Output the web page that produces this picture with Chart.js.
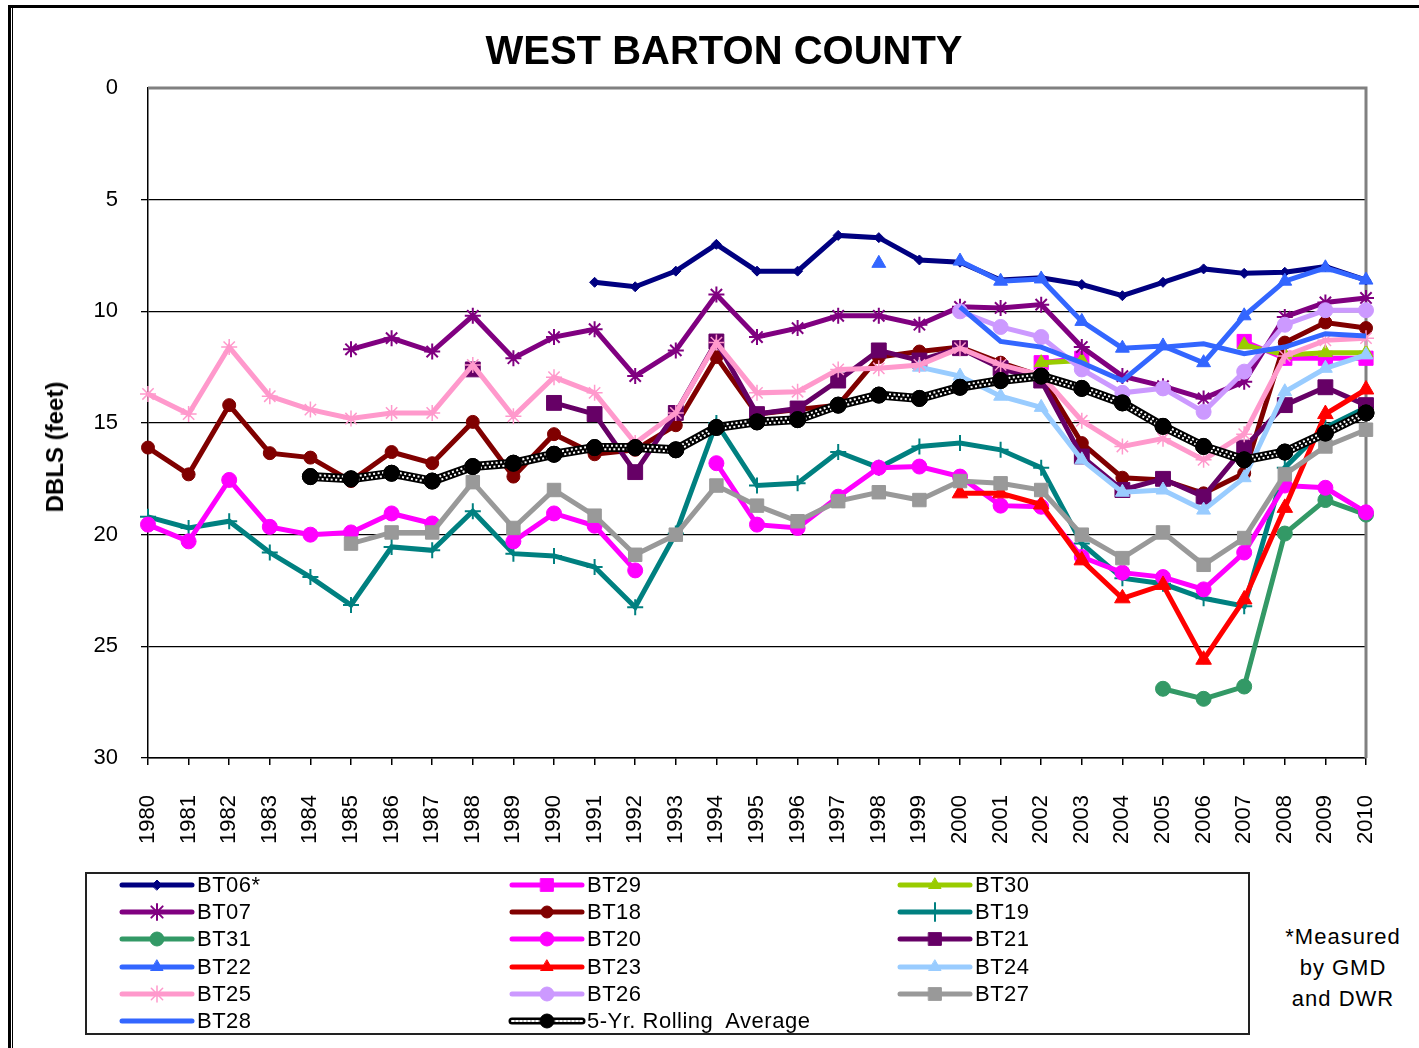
<!DOCTYPE html>
<html><head><meta charset="utf-8">
<script src="https://cdn.jsdelivr.net/npm/chart.js@4.4.1/dist/chart.umd.min.js"></script>
<style>
html,body{margin:0;padding:0;background:#fff;width:1419px;height:1048px;overflow:hidden;font-family:"Liberation Sans",Arial,sans-serif;color:#000;}
#frame1{position:absolute;left:8px;top:5px;width:1500px;height:1100px;border-top:3px solid #000;border-left:3px solid #000;}
#frame2{position:absolute;left:12px;top:8px;width:1500px;height:1100px;border-left:1.5px solid #000;}
#chart{position:absolute;left:0;top:0;}
#title{position:absolute;left:0;width:1448px;top:26px;text-align:center;font-weight:bold;font-size:40px;line-height:48px;}
#ytitle{position:absolute;left:55px;top:447px;transform:translate(-50%,-50%) rotate(-90deg);white-space:nowrap;font-weight:bold;font-size:24px;}
#legend{position:absolute;left:85px;top:872px;width:1161px;height:159px;border:2px solid #222;}
.lt{position:absolute;font-size:22px;line-height:26px;white-space:pre;letter-spacing:0.5px;}
.sw{position:absolute;}
#note{position:absolute;left:1243px;width:200px;top:921px;text-align:center;font-size:22px;line-height:31px;letter-spacing:1px;}
</style>
</head><body>
<div id="frame1"></div><div id="frame2"></div>
<canvas id="chart" width="1419" height="860"></canvas>
<div id="title">WEST BARTON COUNTY</div>
<div id="ytitle">DBLS (feet)</div>
<div id="legend"></div>
<div id="note">*Measured<br>by GMD<br>and DWR</div>
<script>
const years = ['1980','1981','1982','1983','1984','1985','1986','1987','1988','1989','1990','1991','1992','1993','1994','1995','1996','1997','1998','1999','2000','2001','2002','2003','2004','2005','2006','2007','2008','2009','2010'];
const yTicks = [0,5,10,15,20,25,30];
const N = null;

const BT06 = [N,N,N,N,N,N,N,N,N,N,N, 8.7,8.9,8.2,7.0,8.2,8.2,6.6,6.7,7.7,7.8,8.6,8.5,8.8,9.3,8.7,8.1,8.3,8.25,8.0,8.6];
const BT29 = [N,N,N,N,N,N,N,N,N,N,N,N,N,N,N,N,N,N,N,N,N,N, 12.3,12.1,N,N,N,11.35,12.1,12.1,12.1];
const BT30 = [N,N,N,N,N,N,N,N,N,N,N,N,N,N,N,N,N,N,N,N,N,N, 12.3,12.2,N,N,N,11.5,11.95,11.85,11.85];
const BT07 = [N,N,N,N,N, 11.7,11.2,11.8,10.2,12.1,11.15,10.8,12.9,11.75,9.25,11.15,10.75,10.2,10.2,10.6,9.8,9.85,9.7,11.6,12.9,13.35,13.9,13.15,10.25,9.6,9.4];
const BT18 = [16.1,17.3,14.2,16.35,16.55,17.6,16.3,16.8,14.95,17.4,15.5,16.4,16.2,15.1,12.05,14.6,14.4,14.2,12.05,11.8,11.6,12.3,12.9,15.9,17.45,17.55,18.15,17.25,11.4,10.5,10.75];
const BT19 = [19.2,19.7,19.4,20.8,21.9,23.15,20.55,20.7,18.95,20.85,20.95,21.45,23.25,19.95,15.0,17.8,17.7,16.3,17.0,16.05,15.9,16.2,17.0,20.4,21.95,22.2,22.85,23.2,17.0,15.2,14.3];
const BT31 = [N,N,N,N,N,N,N,N,N,N,N,N,N,N,N,N,N,N,N,N,N,N,N,N,N, 26.9,27.35,26.8,19.95,18.45,19.1];
const BT20 = [19.55,20.3,17.55,19.65,20.0,19.9,19.05,19.5,N,20.3,19.05,19.6,21.6,N,16.8,19.55,19.7,18.3,17.0,16.95,17.4,18.7,18.75,21.0,21.7,21.9,22.45,20.8,17.8,17.9,19.0];
const BT21 = [N,N,N,N,N,N,N,N, 12.6,N,14.1,14.6,17.2,14.55,11.35,14.6,14.35,13.1,11.75,12.2,11.65,12.55,13.1,16.5,18.0,17.5,18.3,16.1,14.2,13.4,14.2];
const BT22 = [N,N,N,N,N,N,N,N,N,N,N,N,N,N,N,N,N,N, 7.85,N,7.75,8.65,8.55,10.45,11.65,11.55,12.3,10.2,8.65,8.05,8.6];
const BT23 = [N,N,N,N,N,N,N,N,N,N,N,N,N,N,N,N,N,N,N,N, 18.15,18.15,18.65,21.15,22.85,22.25,25.6,22.9,18.8,14.6,13.5];
const BT24 = [N,N,N,N,N,N,N,N,N,N,N,N,N,N,N,N,N,N,N, 12.5,12.9,13.8,14.3,16.65,18.1,18.0,18.9,17.45,13.6,12.55,11.95];
const BT25 = [13.7,14.6,11.6,13.8,14.4,14.8,14.55,14.55,12.4,14.7,12.95,13.65,15.9,14.55,11.4,13.65,13.6,12.6,12.55,12.4,11.65,12.4,12.85,14.9,16.05,15.7,16.65,15.5,12.0,11.3,11.2];
const BT26 = [N,N,N,N,N,N,N,N,N,N,N,N,N,N,N,N,N,N,N,N, 10.0,10.7,11.15,12.6,13.65,13.45,14.5,12.7,10.6,9.95,9.95];
const BT27 = [N,N,N,N,N, 20.4,19.9,19.9,17.65,19.7,18.0,19.15,20.9,20.0,17.8,18.7,19.4,18.5,18.1,18.45,17.6,17.7,18.0,20.0,21.05,19.9,21.35,20.15,17.3,16.05,15.3];
const BT28 = [N,N,N,N,N,N,N,N,N,N,N,N,N,N,N,N,N,N,N,N, 9.8,11.35,11.6,12.3,13.1,11.6,11.45,11.9,11.6,11.0,11.1];
const AVG5 = [N,N,N,N, 17.4,17.5,17.25,17.6,16.95,16.8,16.4,16.1,16.1,16.2,15.2,14.95,14.85,14.2,13.75,13.9,13.4,13.1,12.9,13.45,14.1,15.15,16.05,16.65,16.3,15.45,14.55];

const seriesNames = ['BT06*','BT29','BT30','BT07','BT18','BT19','BT31','BT20','BT21','BT22','BT23','BT24','BT25','BT26','BT27','BT28','5-Yr. Rolling  Average'];
const seriesData = [BT06,BT29,BT30,BT07,BT18,BT19,BT31,BT20,BT21,BT22,BT23,BT24,BT25,BT26,BT27,BT28,AVG5];

// styles: [color, pointStyle, radius, borderWidth, lineWidth, legendRadius]
const styles = [
  ['#000080','rectRot',5,1,5,5],
  ['#FF00FF','rect',10,1,5,9],
  ['#99CC00','triangle',8,1,5,7],
  ['#800080','star',8,2,5,8],
  ['#800000','circle',6.5,1,5,6],
  ['#008080','cross',8,2,5,9],
  ['#339966','circle',7.5,1,5,7],
  ['#FF00FF','circle',7.5,1,5,7],
  ['#660066','rect',10.5,1,5,9],
  ['#3366FF','triangle',8,1,5,7],
  ['#FF0000','triangle',9,1,5,7],
  ['#99CCFF','triangle',8,1,5,7],
  ['#FF99CC','star',8,1.5,5,8],
  ['#CC99FF','circle',7.5,1,5,7],
  ['#999999','rect',9.5,1,5,9],
  ['#3366FF',false,0,0,5,0],
  ['#000000','circle',8,1,9,7]
];
const AVG_INDEX = 16;
const n = seriesNames.length;

const datasets = seriesNames.map((name,i)=>{
  const s = styles[i];
  return {
    label: name,
    data: seriesData[i],
    borderColor: s[0],
    backgroundColor: s[0],
    borderWidth: s[4],
    pointStyle: s[1],
    pointRadius: s[2],
    pointBorderWidth: s[3],
    pointBackgroundColor: s[0],
    pointBorderColor: s[0],
    pointHoverRadius: s[2],
    tension: 0,
    spanGaps: false,
    fill: false,
    order: n - i
  };
});

const avgPattern = {
  id:'avgPattern',
  afterDatasetDraw(chart, args){
    if (args.index !== AVG_INDEX) return;
    const ctx = chart.ctx;
    const pts = args.meta.data;
    const vals = chart.data.datasets[AVG_INDEX].data;
    ctx.save();
    ctx.strokeStyle = '#ffffff';
    ctx.lineWidth = 2;
    ctx.setLineDash([2,2.5]);
    [-1.8, 1.8].forEach((off, k)=>{
      ctx.lineDashOffset = k * 2.2;
      ctx.beginPath();
      let started = false;
      for (let i=0;i<pts.length;i++){
        const v = vals[i];
        if (v === null || v === undefined){ started = false; continue; }
        const p = pts[i];
        if (!started){ ctx.moveTo(p.x,p.y+off); started = true; } else ctx.lineTo(p.x,p.y+off);
      }
      ctx.stroke();
    });
    ctx.restore();
    pts.forEach((p,i)=>{ const v = vals[i]; if (v!==null && v!==undefined) p.draw(ctx, chart.chartArea); });
  }
};

const plotBorder = {
  id:'plotBorder',
  beforeDatasetsDraw(chart){
    const a = chart.chartArea, ctx = chart.ctx;
    ctx.save();
    ctx.strokeStyle = '#808080';
    ctx.lineWidth = 3;
    ctx.beginPath();
    ctx.moveTo(a.left, a.top); ctx.lineTo(a.right, a.top); ctx.lineTo(a.right, a.bottom);
    ctx.stroke();
    ctx.restore();
  }
};

const chart = new Chart(document.getElementById('chart'), {
  type:'line',
  data:{labels:years, datasets},
  plugins:[plotBorder, avgPattern],
  options:{
    responsive:false,
    animation:false,
    devicePixelRatio:1,
    layout:{padding:{left:12,top:88,right:53,bottom:0}},
    plugins:{legend:{display:false},title:{display:false},tooltip:{enabled:false}},
    scales:{
      x:{
        type:'category',
        offset:false,
        grid:{drawOnChartArea:false,drawTicks:true,tickLength:7,color:'#000',lineWidth:1.5},
        border:{color:'#000',width:1.5},
        ticks:{minRotation:90,maxRotation:90,autoSkip:false,color:'#000',padding:30,font:{family:'"Liberation Sans", Arial, sans-serif',size:22}},
        afterFit:(s)=>{s.height = 102; s.paddingLeft = 0; s.paddingRight = 0;}
      },
      y:{
        reverse:true,
        min:0,max:30,
        afterBuildTicks:(s)=>{ s.ticks = yTicks.map(v=>({value:v})); },
        grid:{color:(c)=> c.tick && c.tick.value===0 ? 'rgba(0,0,0,0)' : '#000', lineWidth:1.3, tickLength:7, drawTicks:true},
        border:{color:'#000',width:1.5},
        ticks:{color:'#000',padding:23,font:{family:'"Liberation Sans", Arial, sans-serif',size:22}},
        afterFit:(s)=>{s.width = 136; s.paddingTop = 0; s.paddingBottom = 0;}
      }
    }
  }
});

// HTML legend built from the datasets
const legend = document.getElementById('legend');
const colX = [122,512,900];
const rowY0 = 885, rowStep = 27.2;
const LEFT = 87, TOP = 874;
const helpers = Chart.helpers;
function drawMarker(ctx, style, r, bw, x, y){
  if (helpers && helpers.drawPoint){
    helpers.drawPoint(ctx,{pointStyle:style,radius:r,rotation:0,borderWidth:bw},x,y);
  } else {
    ctx.beginPath(); ctx.arc(x,y,r,0,Math.PI*2); ctx.fill();
  }
}
datasets.forEach((ds,i)=>{
  const s = styles[i];
  const row = Math.floor(i/3), col = i%3;
  const cy = rowY0 + row*rowStep;
  const cv = document.createElement('canvas');
  cv.width = 84; cv.height = 24; cv.className='sw';
  cv.style.left = (colX[col]-7-LEFT)+'px';
  cv.style.top = (cy-12-TOP)+'px';
  const c = cv.getContext('2d');
  c.lineCap = 'round';
  c.strokeStyle = s[0];
  c.lineWidth = (i===AVG_INDEX) ? 7 : 5;
  c.beginPath(); c.moveTo(7,12); c.lineTo(77,12); c.stroke();
  if (i===AVG_INDEX){
    c.strokeStyle='#fff'; c.lineWidth=2; c.setLineDash([2,2]);
    c.beginPath(); c.moveTo(7,12); c.lineTo(77,12); c.stroke(); c.setLineDash([]);
  }
  if (s[1]){
    c.fillStyle = s[0]; c.strokeStyle = s[0]; c.lineWidth = s[3];
    drawMarker(c, s[1], s[5], s[3], 42, 12);
  }
  legend.appendChild(cv);
  const t = document.createElement('div');
  t.className='lt';
  t.textContent = ds.label;
  t.style.left = (colX[col]+75-LEFT)+'px';
  t.style.top = (cy-13-TOP)+'px';
  legend.appendChild(t);
});
</script>
</body></html>
